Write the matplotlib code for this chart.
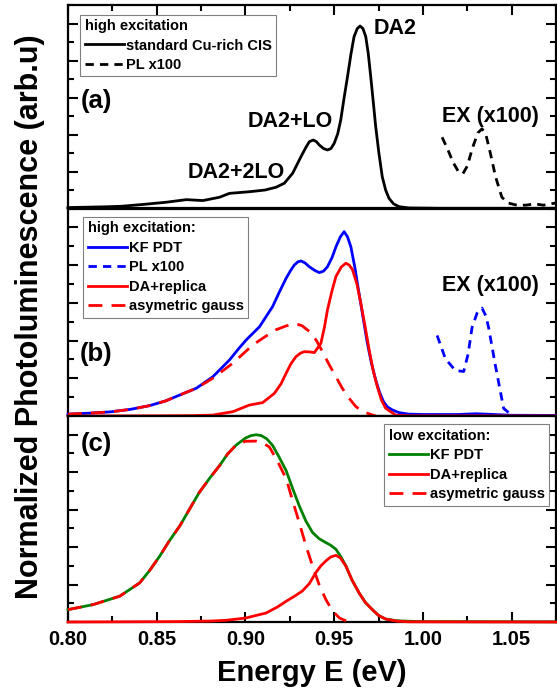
import matplotlib
matplotlib.use("Agg")
import matplotlib.pyplot as plt
from matplotlib.ticker import MultipleLocator, NullFormatter

plt.rcParams['font.family'] = ['Liberation Sans', 'DejaVu Sans']
plt.rcParams['font.weight'] = 'bold'

# ---------------- data ----------------
# panel (a): standard Cu-rich CIS, high excitation
a_E = [0.800, 0.810, 0.820, 0.830, 0.8423, 0.8554, 0.8667, 0.876, 0.8854, 0.891, 0.9023,
       0.9110, 0.9172, 0.9219, 0.9266, 0.9313, 0.9340, 0.936, 0.9382, 0.9400, 0.9416, 0.9440,
       0.9462, 0.9482, 0.950, 0.952, 0.9537, 0.9556, 0.9575, 0.9595, 0.9612, 0.963, 0.9646,
       0.9662, 0.9678, 0.9692, 0.9706, 0.972, 0.9734, 0.9752, 0.9771, 0.979, 0.9809, 0.9835,
       0.9865, 0.992, 1.010, 1.075]
a_I = [0.005, 0.007, 0.009, 0.012, 0.022, 0.034, 0.048, 0.043, 0.061, 0.082, 0.091,
       0.100, 0.115, 0.137, 0.191, 0.281, 0.330, 0.362, 0.371, 0.362, 0.344, 0.325,
       0.317, 0.325, 0.353, 0.405, 0.480, 0.600, 0.714, 0.840, 0.931, 0.975, 0.989,
       0.975, 0.931, 0.840, 0.714, 0.580, 0.443, 0.300, 0.172, 0.100, 0.055, 0.025,
       0.010, 0.003, 0.001, 0.001]
a_pl_E = [1.0108, 1.014, 1.017, 1.020, 1.0225, 1.025, 1.028, 1.031, 1.0333, 1.0355, 1.038,
          1.041, 1.0445, 1.048, 1.052, 1.058, 1.063, 1.068, 1.075]
a_pl_I = [0.386, 0.320, 0.250, 0.200, 0.188, 0.230, 0.330, 0.410, 0.432, 0.400, 0.300,
          0.170, 0.061, 0.030, 0.020, 0.018, 0.025, 0.018, 0.030]

# panel (b): KF PDT, high excitation
b_E = [0.800, 0.812, 0.824, 0.835, 0.846, 0.855, 0.8629, 0.8723, 0.8816, 0.891, 0.8960,
       0.9004, 0.9079, 0.9153, 0.9190, 0.9229, 0.9255, 0.9275, 0.9295, 0.9313, 0.9335,
       0.936, 0.939, 0.9416, 0.944, 0.9462, 0.9488, 0.951, 0.9535, 0.9556, 0.9575, 0.9594,
       0.9618, 0.964, 0.9665, 0.9687, 0.971, 0.9734, 0.9756, 0.9778, 0.980, 0.9828, 0.9865,
       0.992, 1.000, 1.020, 1.030, 1.040, 1.050, 1.075]
b_I = [0.010, 0.015, 0.022, 0.035, 0.055, 0.080, 0.111, 0.147, 0.208, 0.297, 0.355,
       0.403, 0.473, 0.580, 0.655, 0.730, 0.772, 0.800, 0.817, 0.822, 0.812,
       0.791, 0.772, 0.760, 0.768, 0.791, 0.840, 0.897, 0.950, 0.977, 0.950, 0.897,
       0.780, 0.650, 0.510, 0.385, 0.280, 0.191, 0.125, 0.076, 0.048, 0.032, 0.018,
       0.010, 0.008, 0.008, 0.012, 0.008, 0.004, 0.003]
b_pl_E = [1.008, 1.0127, 1.0183, 1.023, 1.0255, 1.0277, 1.0305, 1.0333, 1.0355, 1.037,
          1.0408, 1.0455, 1.050, 1.055, 1.065, 1.075]
b_pl_I = [0.427, 0.303, 0.241, 0.236, 0.330, 0.470, 0.545, 0.572, 0.530, 0.470,
          0.270, 0.040, 0.005, -0.010, -0.012, -0.008]
b_da_E = [0.800, 0.850, 0.870, 0.8816, 0.8929, 0.9022, 0.9097, 0.9163, 0.9200, 0.9229,
          0.9255, 0.9284, 0.9310, 0.9331, 0.9360, 0.9388, 0.9425, 0.9445, 0.9462, 0.9488,
          0.951, 0.954, 0.9566, 0.9585, 0.9603, 0.9628, 0.965, 0.9675, 0.9697, 0.972, 0.9743,
          0.9766, 0.979, 0.9846, 0.992, 1.075]
b_da_I = [0.000, 0.001, 0.002, 0.005, 0.023, 0.058, 0.071, 0.120, 0.170, 0.226,
          0.275, 0.314, 0.333, 0.341, 0.340, 0.336, 0.385, 0.470, 0.562, 0.665,
          0.740, 0.790, 0.810, 0.800, 0.776, 0.700, 0.599, 0.470, 0.350, 0.240, 0.156,
          0.085, 0.041, 0.005, 0.001, 0.000]
b_ag_E = [0.800, 0.812, 0.824, 0.835, 0.846, 0.855, 0.8629, 0.8723, 0.8816, 0.8929, 0.9041,
          0.9110, 0.9172, 0.9230, 0.9284, 0.9320, 0.936, 0.9400, 0.9434, 0.9470, 0.951,
          0.9545, 0.9584, 0.962, 0.9659, 0.9734]
b_ag_I = [0.010, 0.015, 0.022, 0.035, 0.055, 0.080, 0.111, 0.147, 0.200, 0.280, 0.376,
          0.420, 0.457, 0.478, 0.489, 0.478, 0.448, 0.400, 0.341, 0.275, 0.208,
          0.148, 0.094, 0.052, 0.023, 0.000]

# panel (c): KF PDT, low excitation
c_E = [0.800, 0.8142, 0.8292, 0.8404, 0.8460, 0.8517, 0.857, 0.863, 0.8685, 0.874, 0.880,
       0.8854, 0.890, 0.8948, 0.900, 0.903, 0.906, 0.909, 0.912, 0.9153, 0.919, 0.9229,
       0.9265, 0.9303, 0.934, 0.9378, 0.9415, 0.9453, 0.948, 0.951, 0.954, 0.9566, 0.960,
       0.964, 0.9675, 0.9715, 0.975, 0.979, 0.985, 0.992, 1.000, 1.075]
c_I = [0.066, 0.093, 0.138, 0.209, 0.275, 0.352, 0.432, 0.513, 0.603, 0.692, 0.770,
       0.835, 0.898, 0.945, 0.982, 0.995, 1.000, 0.995, 0.978, 0.943, 0.880, 0.809,
       0.715, 0.621, 0.540, 0.478, 0.445, 0.424, 0.410, 0.388, 0.345, 0.299, 0.225,
       0.156, 0.105, 0.066, 0.035, 0.016, 0.007, 0.004, 0.002, 0.001]
c_da_E = [0.800, 0.860, 0.880, 0.889, 0.900, 0.9116, 0.918, 0.923, 0.928, 0.932, 0.936,
          0.9396, 0.9425, 0.9453, 0.948, 0.951, 0.9535, 0.9566, 0.960, 0.964, 0.9675,
          0.9715, 0.975, 0.979, 0.985, 0.992, 1.075]
c_da_I = [0.000, 0.002, 0.005, 0.009, 0.021, 0.048, 0.080, 0.111, 0.140, 0.165, 0.205,
          0.263, 0.300, 0.326, 0.347, 0.356, 0.342, 0.299, 0.225, 0.156, 0.105,
          0.066, 0.035, 0.016, 0.005, 0.001, 0.000]
c_ag_E = [0.800, 0.8142, 0.8292, 0.8404, 0.8460, 0.8517, 0.857, 0.863, 0.8685, 0.874, 0.880,
          0.8854, 0.890, 0.8948, 0.900, 0.906, 0.910, 0.9135, 0.918, 0.923, 0.9265, 0.9303,
          0.934, 0.9378, 0.9415, 0.9453, 0.949, 0.953, 0.957, 0.960]
c_ag_I = [0.066, 0.093, 0.138, 0.209, 0.275, 0.352, 0.432, 0.513, 0.603, 0.692, 0.770,
          0.835, 0.898, 0.945, 0.965, 0.966, 0.955, 0.934, 0.860, 0.764, 0.650, 0.531,
          0.410, 0.299, 0.200, 0.120, 0.060, 0.021, 0.005, 0.000]

x_ticks = [0.80, 0.85, 0.90, 0.95, 1.00, 1.05]
x_tick_labels = ['0.80', '0.85', '0.90', '0.95', '1.00', '1.05']

# ---------------- figure ----------------
W, H = 557, 696
fig = plt.figure(figsize=(W / 100, H / 100), dpi=100)
L, R = 68 / W, 556 / W
edges = [5.5, 208.5, 416, 622]   # pixel rows of panel borders
axes = []
for i in range(3):
    top, bot = edges[i], edges[i + 1]
    axes.append(fig.add_axes([L, 1 - bot / H, R - L, (bot - top) / H]))

lw = 2.0
for ax in axes:
    ax.set_xlim(0.80, 1.075)
    ax.set_ylim(0, 1.1)
    for s in ax.spines.values():
        s.set_linewidth(1.6)
        s.set_zorder(2)
    ax.yaxis.set_major_locator(MultipleLocator(0.2))
    ax.yaxis.set_minor_locator(MultipleLocator(0.1))
    ax.yaxis.set_major_formatter(NullFormatter())
    ax.tick_params(axis='y', which='both', direction='in', left=True, right=True,
                   labelleft=False)
    ax.tick_params(axis='y', which='major', length=7, width=1.5)
    ax.tick_params(axis='y', which='minor', length=4.5, width=1.5)
    ax.xaxis.set_major_locator(MultipleLocator(0.05))
    ax.xaxis.set_minor_locator(MultipleLocator(0.025))
    ax.tick_params(axis='x', which='both', direction='in', top=False, bottom=False,
                   labelbottom=False)

axa, axb, axc = axes
axa.tick_params(axis='x', which='both', top=True)
axa.tick_params(axis='x', which='major', length=7, width=1.5)
axa.tick_params(axis='x', which='minor', length=4.5, width=1.5)
axc.tick_params(axis='x', which='both', bottom=True, labelbottom=True)
axc.tick_params(axis='x', which='major', length=7, width=1.5, labelsize=14.5, pad=6)
axc.tick_params(axis='x', which='minor', length=4.5, width=1.5)
axc.set_xticks(x_ticks)
axc.set_xticklabels(x_tick_labels)

short_dash = (0, (3.0, 2.2))
long_dash = (0, (5.0, 3.3))
kw = dict(clip_on=False, zorder=3, solid_joinstyle='round', dash_joinstyle='round')
# panel a
axa.plot(a_E, a_I, color='black', lw=lw, label='standard Cu-rich CIS', **kw)
axa.plot(a_pl_E, a_pl_I, color='black', lw=lw, ls=short_dash, label='PL x100', **kw)
# panel b
axb.plot(b_E, b_I, color='#0000ff', lw=lw, label='KF PDT', **kw)
axb.plot(b_pl_E, b_pl_I, color='#0000ff', lw=lw, ls=short_dash, label='PL x100', **kw)
axb.plot(b_da_E, b_da_I, color='#ff0000', lw=lw, label='DA+replica', **kw)
axb.plot(b_ag_E, b_ag_I, color='#ff0000', lw=lw, ls=long_dash, label='asymetric gauss', **kw)
# panel c
axc.plot(c_E, c_I, color='#008000', lw=lw, label='KF PDT', **kw)
axc.plot(c_da_E, c_da_I, color='#ff0000', lw=lw, label='DA+replica', **kw)
axc.plot(c_ag_E, c_ag_I, color='#ff0000', lw=lw, ls=long_dash, label='asymetric gauss', **kw)

leg_kw = dict(fontsize=10.5, title_fontsize=10.5, frameon=True, fancybox=False,
              edgecolor='#808080', framealpha=1, borderaxespad=0, borderpad=0.3,
              handlelength=2.7, handletextpad=0.12, labelspacing=0.38, alignment='left')
la = axa.legend(loc='upper left', bbox_to_anchor=(0.025, 0.955), title='high excitation', **leg_kw)
lb = axb.legend(loc='upper left', bbox_to_anchor=(0.031, 0.96), title='high excitation:', **leg_kw)
lc = axc.legend(loc='upper right', bbox_to_anchor=(0.986, 0.96), title='low excitation:', **leg_kw)
for lg in (la, lb, lc):
    lg.get_frame().set_linewidth(0.8)
    lg.get_title().set_fontweight('bold')
    lg.set_zorder(5)

tk = dict(fontsize=15.5, fontweight='bold', ha='left', va='center')
pk = dict(fontsize=18.5, fontweight='bold', ha='left', va='center')
axa.text(0.8070, 0.585, '(a)', **pk)
axa.text(0.9725, 0.976, 'DA2', **tk)
axa.text(0.9010, 0.470, 'DA2+LO', **tk)
axa.text(0.8676, 0.196, 'DA2+2LO', **tk)
axa.text(1.0105, 0.500, 'EX (x100)', **tk)
axb.text(0.8065, 0.327, '(b)', **pk)
axb.text(1.0105, 0.690, 'EX (x100)', **tk)
axc.text(0.8070, 0.953, '(c)', **pk)

axc.set_xlabel('Energy E (eV)', fontsize=21, fontweight='bold', labelpad=7)
fig.text(30 / W, 1 - 317 / H, 'Normalized Photoluminescence (arb.u)', rotation=90,
         fontsize=22, fontweight='bold', ha='center', va='center')

fig.savefig('out.png', dpi=100)
